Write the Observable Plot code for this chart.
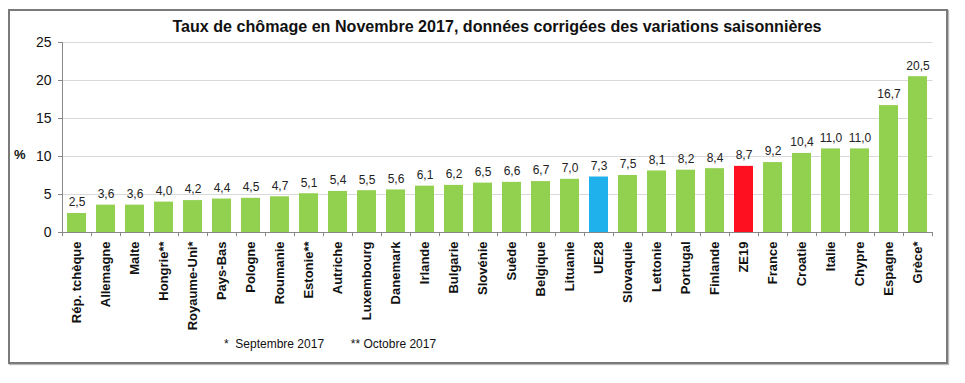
<!DOCTYPE html>
<html><head><meta charset="utf-8">
<script src="https://cdn.jsdelivr.net/npm/d3@7"></script>
<script src="https://cdn.jsdelivr.net/npm/@observablehq/plot@0.6"></script>
<style>
body{margin:0;background:#fff;font-family:"Liberation Sans",Arial,sans-serif;}
#wrap{position:relative;width:965px;height:383px;overflow:hidden;background:#fff;}
#frame{position:absolute;left:8px;top:9px;width:936px;height:351px;border:2px solid #7a7a7a;box-shadow:1px 1px 1px #bbb;}
#title{position:absolute;left:0;width:994px;top:17px;text-align:center;font-weight:bold;font-size:16.1px;color:#111;white-space:nowrap;}
#pct{position:absolute;left:14px;top:147px;font-weight:bold;font-size:13px;color:#111;}
#foot{position:absolute;left:224px;top:337px;font-size:12px;color:#111;white-space:nowrap;}
#chart{position:absolute;left:0;top:0;}
#chart svg{font-family:"Liberation Sans",Arial,sans-serif;}
g[aria-label="x-axis tick label"] text{font-weight:bold;}
</style></head>
<body>
<div id="wrap">
  <div id="frame"></div>
  <div id="chart"></div>
  <div id="title">Taux de chômage en Novembre 2017, données corrigées des variations saisonnières</div>
  <div id="pct">%</div>
  <div id="foot">*&nbsp; Septembre 2017&nbsp;&nbsp;&nbsp;&nbsp;&nbsp;&nbsp;&nbsp; ** Octobre 2017</div>
</div>
<script>
const countries = ["Rép. tchèque","Allemagne","Malte","Hongrie**","Royaume-Uni*","Pays-Bas","Pologne","Roumanie","Estonie**","Autriche","Luxembourg","Danemark","Irlande","Bulgarie","Slovénie","Suède","Belgique","Lituanie","UE28","Slovaquie","Lettonie","Portugal","Finlande","ZE19","France","Croatie","Italie","Chypre","Espagne","Grèce*"];
const values = [2.5,3.6,3.6,4.0,4.2,4.4,4.5,4.7,5.1,5.4,5.5,5.6,6.1,6.2,6.5,6.6,6.7,7.0,7.3,7.5,8.1,8.2,8.4,8.7,9.2,10.4,11.0,11.0,16.7,20.5];
const groups = ["pays","UE28","ZE19"];
const groupColors = ["#92D050","#1FB1EC","#FF1020"];
const yTicks = [0,5,10,15,20,25];

const data = countries.map((c,i)=>({c, v: values[i], g: c==="UE28" ? "UE28" : c==="ZE19" ? "ZE19" : "pays"}));
const fmt = v => d3.format(".1f")(v).replace(".", ",");

const W = 965, H = 383, mL = 62, mR = 32.5;
const step = (W - mL - mR) / countries.length;

const chart = Plot.plot({
  width: W, height: H,
  marginLeft: mL, marginRight: mR, marginTop: 42, marginBottom: 151,
  style: {background: "transparent", fontFamily: "Liberation Sans, Arial, sans-serif", color: "#111"},
  x: {domain: countries, paddingInner: 0.335, paddingOuter: 0.1675, label: null},
  y: {domain: [0, 25], label: null},
  color: {domain: groups, range: groupColors},
  marks: [
    Plot.gridY({ticks: yTicks.slice(1), stroke: "#d9d9d9", strokeOpacity: 1}),
    Plot.barY(data, {x: "c", y: "v", fill: "g"}),
    Plot.text(data, {x: "c", y: "v", text: d => fmt(d.v), dy: -11, fontSize: 12, fill: "#222"}),
    Plot.ruleY([0], {stroke: "#888"}),
    Plot.frame({anchor: "left", stroke: "#888"}),
    Plot.ruleX(countries, {x: d => d, dx: -step/2, y1: 0, y2: -0.55, stroke: "#888"}),
    Plot.ruleX(countries.slice(-1), {x: d => d, dx: step/2, y1: 0, y2: -0.55, stroke: "#888"}),
    Plot.axisY({ticks: yTicks, tickSize: 4, tickPadding: 7, fontSize: 14, stroke: "#888", fill: "#111", label: null}),
    Plot.axisX({tickRotate: -90, tickSize: 0, tickPadding: 9, fontSize: 13, fill: "#111", label: null})
  ]
});
document.getElementById("chart").appendChild(chart);
</script>
</body></html>
